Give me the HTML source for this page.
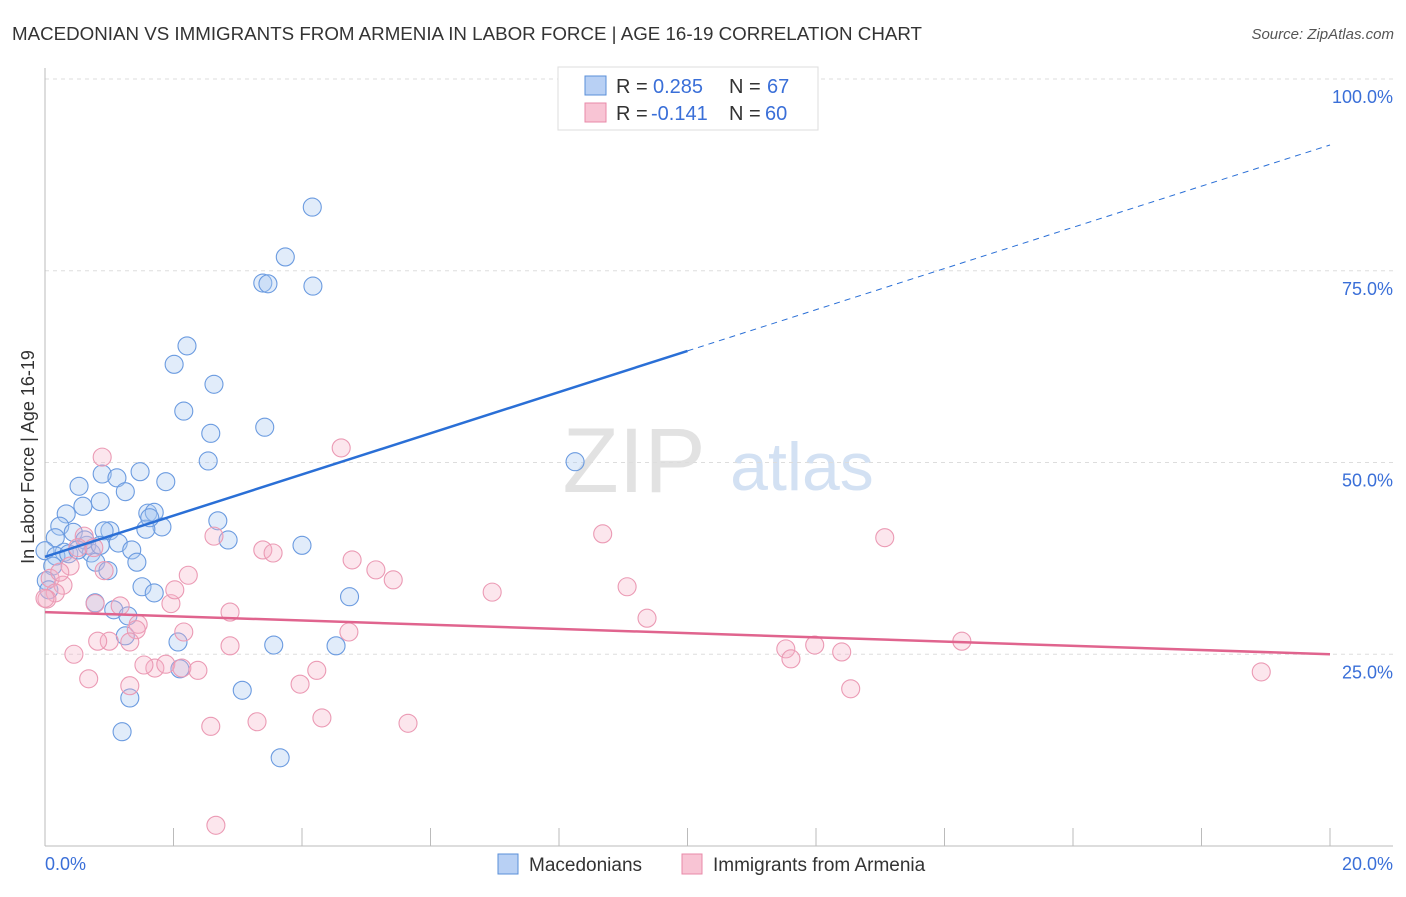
<!DOCTYPE html>
<html><head><meta charset="utf-8"><style>
body{margin:0;background:#fff;font-family:"Liberation Sans",sans-serif}
svg text{font-family:"Liberation Sans",sans-serif}
</style></head><body>
<svg id="c" width="1406" height="892">
<text x="12" y="40" font-size="18" fill="#333" textLength="910" lengthAdjust="spacingAndGlyphs">MACEDONIAN VS IMMIGRANTS FROM ARMENIA IN LABOR FORCE | AGE 16-19 CORRELATION CHART</text>
<text x="1394" y="39" font-size="15" fill="#555" text-anchor="end" font-style="italic">Source: ZipAtlas.com</text>
<g><text x="634" y="492" font-size="92" fill="#e2e2e2" font-family="Liberation Serif" text-anchor="middle">ZIP</text><text x="802" y="490" font-size="68" fill="#d3e1f3" text-anchor="middle">atlas</text></g>
<g id="grid"></g><g id="pts"></g><g id="lines"></g>
<text transform="translate(34,457) rotate(-90)" font-size="18" fill="#333" text-anchor="middle">In Labor Force | Age 16-19</text>
<text x="45" y="870" font-size="18" fill="#3a6fd8">0.0%</text>
<text x="1393" y="870" font-size="18" fill="#3a6fd8" text-anchor="end">20.0%</text>
<g>
<rect x="558" y="67" width="260" height="63" fill="#fff" stroke="#ddd"/>
<rect x="585" y="76" width="21" height="19" fill="#b8d0f4" stroke="#5a8fd8"/>
<rect x="585" y="103" width="21" height="19" fill="#f8c4d4" stroke="#e88aa8"/>
<text x="616" y="93" font-size="20" fill="#333">R =</text>
<text x="653" y="93" font-size="20" fill="#3a6fd8">0.285</text>
<text x="729" y="93" font-size="20" fill="#333">N =</text>
<text x="767" y="93" font-size="20" fill="#3a6fd8">67</text>
<text x="616" y="120" font-size="20" fill="#333">R =</text>
<text x="651" y="120" font-size="20" fill="#3a6fd8">-0.141</text>
<text x="729" y="120" font-size="20" fill="#333">N =</text>
<text x="765" y="120" font-size="20" fill="#3a6fd8">60</text>
</g>
<g>
<rect x="498" y="854" width="20" height="20" fill="#b8d0f4" stroke="#5a8fd8"/>
<text x="529" y="871" font-size="19" fill="#333">Macedonians</text>
<rect x="682" y="854" width="20" height="20" fill="#f8c4d4" stroke="#e88aa8"/>
<text x="713" y="871" font-size="19" fill="#333">Immigrants from Armenia</text>
</g>
</svg>
<script>
const blueX=[4.16,3.74,3.39,3.47,4.17,2.21,2.01,2.63,2.16,3.42,2.58,2.54,8.25,1.48,0.89,1.12,0.53,1.88,1.25,0.86,0.59,0.33,1.60,1.70,2.69,0.23,0.44,1.01,0.92,1.82,1.57,2.85,4.00,1.14,0.16,0.65,1.35,0.30,0.72,0.0,0.17,0.37,0.79,1.43,0.98,0.12,0.02,1.51,1.70,0.78,1.07,1.29,1.25,2.07,3.56,4.53,4.74,2.10,3.07,1.32,1.20,3.66,0.62,0.06,0.51,0.86,1.63];
const blueY=[83.3,76.8,73.4,73.3,73.0,65.2,62.8,60.2,56.7,54.6,53.8,50.2,50.1,48.8,48.5,48.0,46.9,47.5,46.2,44.9,44.3,43.3,43.4,43.5,42.4,41.7,40.9,41.1,41.1,41.6,41.3,39.9,39.2,39.5,40.2,39.2,38.6,38.3,38.2,38.5,37.8,38.1,37.0,37.0,35.9,36.5,34.6,33.8,33.0,31.7,30.8,30.0,27.4,26.6,26.2,26.1,32.5,23.1,20.3,19.3,14.9,11.5,39.9,33.4,38.6,39.2,42.8];
const pinkX=[4.61,0.89,8.68,13.07,2.63,3.39,3.55,4.78,0.61,0.39,5.15,5.42,9.06,6.96,2.23,0.92,0.08,0.28,0.16,0.03,1.96,2.88,0.78,1.17,9.37,1.45,1.42,2.16,1.00,0.82,1.32,4.73,11.53,11.98,12.40,14.27,2.88,0.45,1.71,1.88,2.13,2.38,4.23,11.61,0.68,1.32,3.97,12.54,18.93,4.31,3.30,2.58,5.65,2.66,0.51,0.76,0.23,0.0,2.02,1.54];
const pinkY=[51.9,50.7,40.7,40.2,40.4,38.6,38.2,37.3,40.4,36.5,36.0,34.7,33.8,33.1,35.3,35.9,34.9,34.0,33.0,32.2,31.6,30.5,31.6,31.3,29.7,28.9,28.2,27.9,26.7,26.7,26.6,27.9,25.7,26.2,25.3,26.7,26.1,25.0,23.2,23.7,23.2,22.9,22.9,24.4,21.8,20.9,21.1,20.5,22.7,16.7,16.2,15.6,16.0,2.7,38.9,38.9,35.7,32.3,33.4,23.6];
const blueTrend=[37.7,91.4];
const pinkTrend=[30.5,25.0];
const yTicks=[25,50,75,100];
const yTickLabels=["25.0%","50.0%","75.0%","100.0%"];
const xTicks=[0,2,4,6,8,10,12,14,16,18,20];
const NS="http://www.w3.org/2000/svg";
const X=v=>45+v/20*1285, Y=v=>846-v/100*767;
function mk(t,a,p){const e=document.createElementNS(NS,t);for(const k in a)e.setAttribute(k,a[k]);p.appendChild(e);return e;}
const g=document.getElementById('grid');
yTicks.forEach((t,i)=>{
 const l=mk('line',{x1:45,x2:1393,y1:Y(t),y2:Y(t),stroke:'#ddd','stroke-dasharray':'4,4'},g);
 
 
 const tx=mk('text',{x:1393,y:Y(t)+24,'font-size':18,fill:'#3a6fd8','text-anchor':'end'},g);
 tx.textContent=yTickLabels[i];
 
 
});
const ax=mk('line',{x1:45,x2:45,y1:68,y2:846,stroke:'#bbb'},g);


const bx=mk('line',{x1:45,x2:1393,y1:846,y2:846,stroke:'#bbb'},g);


xTicks.forEach(t=>{const l=mk('line',{x1:X(t),x2:X(t),y1:828,y2:846,stroke:'#bbb'},g);
 
 });
const p=document.getElementById('pts');
blueX.forEach((v,i)=>{const c=mk('circle',{cx:X(v),cy:Y(blueY[i]),r:9,fill:'rgba(170,200,242,0.35)',stroke:'#6b9be0','stroke-width':1.1},p);
 
 });
pinkX.forEach((v,i)=>{const c=mk('circle',{cx:X(v),cy:Y(pinkY[i]),r:9,fill:'rgba(246,178,200,0.32)',stroke:'#eb9ab4','stroke-width':1.1},p);
 
 });
const L=document.getElementById('lines');
const bAt=x=>blueTrend[0]+(blueTrend[1]-blueTrend[0])*x/20;
let l1=mk('line',{x1:X(0),y1:Y(bAt(0)),x2:X(10),y2:Y(bAt(10)),stroke:'#2a6fd6','stroke-width':2.5},L);


let l2=mk('line',{x1:X(10),y1:Y(bAt(10)),x2:X(20),y2:Y(bAt(20)),stroke:'#2a6fd6','stroke-width':1,'stroke-dasharray':'6,5'},L);


let l3=mk('line',{x1:X(0),y1:Y(pinkTrend[0]),x2:X(20),y2:Y(pinkTrend[1]),stroke:'#e0648e','stroke-width':2.5},L);


</script>
</body></html>
